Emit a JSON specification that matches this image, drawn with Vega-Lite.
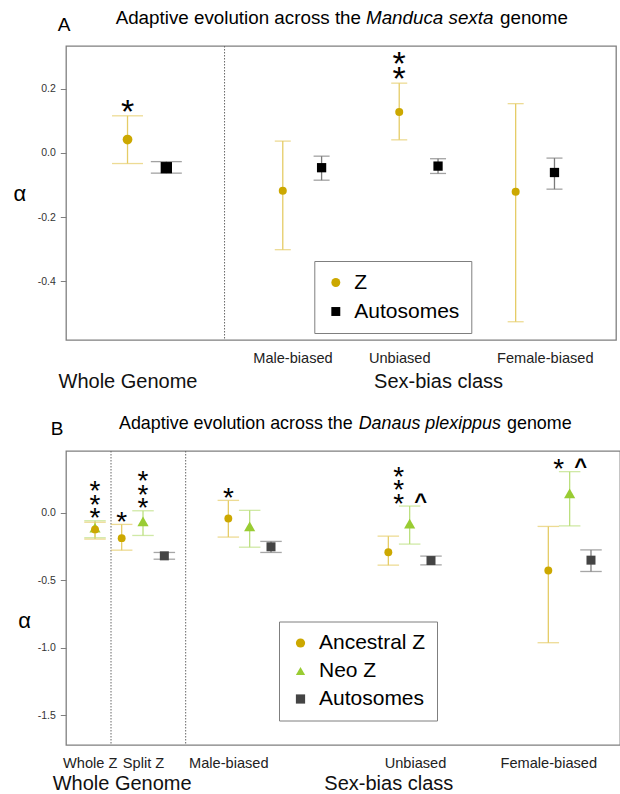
{
  "$schema": "https://vega.github.io/schema/vega-lite/v6.json",
  "padding": {"left": 12, "top": 8, "right": 0, "bottom": 0},
  "background": "white",
  "spacing": 22,
  "config": {
    "font": "Liberation Sans",
    "view": {"stroke": "#7f7f7f", "strokeWidth": 1.3},
    "axis": {"grid": false}
  },
  "resolve": {"scale": {"x": "independent", "y": "independent", "color": "independent", "shape": "independent", "size": "independent"}, "legend": {"color": "independent", "shape": "independent"}},
  "vconcat": [
    {
      "width": 550,
      "height": 294,
      "data": {"values": [
        {"class": "Whole Genome", "chrom": "Z", "est": 0.042, "lo": -0.033, "hi": 0.116, "sig": "*"},
        {"class": "Whole Genome", "chrom": "Autosomes", "est": -0.046, "lo": -0.063, "hi": -0.027},
        {"class": "Male-biased", "chrom": "Z", "est": -0.118, "lo": -0.302, "hi": 0.037},
        {"class": "Male-biased", "chrom": "Autosomes", "est": -0.046, "lo": -0.085, "hi": -0.010},
        {"class": "Unbiased", "chrom": "Z", "est": 0.128, "lo": 0.041, "hi": 0.218, "sig": "**"},
        {"class": "Unbiased", "chrom": "Autosomes", "est": -0.041, "lo": -0.064, "hi": -0.018},
        {"class": "Female-biased", "chrom": "Z", "est": -0.121, "lo": -0.527, "hi": 0.154},
        {"class": "Female-biased", "chrom": "Autosomes", "est": -0.061, "lo": -0.113, "hi": -0.016}
      ]},
      "transform": [
        {"calculate": "datum.class + '|' + datum.chrom", "as": "key"},
        {"calculate": "datum.sig ? split(datum.sig, '') : null", "as": "sigLines"}
      ],
      "resolve": {"axis": {"x": "independent"}},
      "layer": [
        {
          "data": {"values": [{}]},
          "mark": {"type": "rule", "color": "#666666", "strokeDash": [1.5, 1.5], "strokeWidth": 1},
          "encoding": {"x": {"datum": "_10", "type": "nominal", "scale": {"type": "point"}, "axis": null}}
        },
        {
          "mark": {"type": "rule", "strokeWidth": 1.3},
          "encoding": {
            "x": {"field": "key", "type": "nominal",
              "scale": {"type": "point", "padding": 0.34, "domain": ["_m6","_m5","_m4","_m3","_m2","_m1","Whole Genome|Z","_1","_2","_3","Whole Genome|Autosomes","_5","_6","_7","_8","_9","_10","_11","_12","_13","_14","_15","Male-biased|Z","lab:Male-biased","_18","_19","Male-biased|Autosomes","_21","_22","_23","_24","_25","_26","_27","Unbiased|Z","_29","_30","_31","Unbiased|Autosomes","_33","_34","_35","_36","_37","_38","_39","Female-biased|Z","_41","_42","lab:Female-biased","Female-biased|Autosomes","_45","_46","_47","_48","_49","_50"]},
              "axis": {"orient": "bottom", "title": null, "domain": false, "ticks": false, "tickSize": 0, "values": ["lab:Male-biased", "Unbiased|Z", "lab:Female-biased"], "labelExpr": "replace(split(datum.value, '|')[0], 'lab:', '')", "labelAngle": 0, "labelFontSize": 14.6, "labelColor": "#222222", "labelPadding": 18, "labelBaseline": "middle", "labelOverlap": false, "labelFlush": false}
            },
            "y": {"field": "lo", "type": "quantitative", "title": "α",
              "scale": {"domain": [-0.584, 0.334], "nice": false, "zero": false},
              "axis": {"values": [-0.4, -0.2, 0, 0.2], "format": ".1f", "labelExpr": "replace(datum.label, '\u2212', '-')", "domain": false, "tickColor": "#7f7f7f", "tickSize": 5.7, "labelPadding": 5, "labelFontSize": 10.5, "labelColor": "#333333", "titleAngle": 0, "titleFontSize": 22, "titleFontWeight": "normal", "titleX": -46.7, "titleY": 147, "titleAlign": "center", "titleBaseline": "middle", "titleColor": "#000000"}
            },
            "y2": {"field": "hi", "title": "α"},
            "color": {"condition": {"test": "datum.chrom === 'Z'", "value": "#E5CC66"}, "value": "#7a7a7a"}
          }
        },
        {
          "mark": {"type": "tick", "thickness": 1.3},
          "encoding": {
            "x": {"field": "key", "type": "nominal", "scale": {"type": "point"},
              "axis": {"orient": "bottom", "title": null, "domain": false, "ticks": false, "tickSize": 0, "values": ["Whole Genome|Z", "Unbiased|Autosomes"], "labelExpr": "datum.value === 'Whole Genome|Z' ? 'Whole Genome' : 'Sex-bias class'", "labelAngle": 0, "labelFontSize": 20, "labelColor": "#111111", "labelPadding": 41, "labelBaseline": "middle", "labelOverlap": false, "labelFlush": false}
            },
            "y": {"field": "lo", "type": "quantitative", "title": "α"},
            "color": {"condition": {"test": "datum.chrom === 'Z'", "value": "#E5CC66"}, "value": "#7a7a7a"},
            "size": {"condition": {"test": "datum.class === 'Whole Genome'", "value": 31}, "value": 16}
          }
        },
        {
          "mark": {"type": "tick", "thickness": 1.3},
          "encoding": {
            "x": {"field": "key", "type": "nominal", "scale": {"type": "point"}, "axis": null},
            "y": {"field": "hi", "type": "quantitative", "title": "α"},
            "color": {"condition": {"test": "datum.chrom === 'Z'", "value": "#E5CC66"}, "value": "#7a7a7a"},
            "size": {"condition": {"test": "datum.class === 'Whole Genome'", "value": 31}, "value": 16}
          }
        },
        {
          "mark": {"type": "point", "filled": true, "opacity": 1},
          "encoding": {
            "x": {"field": "key", "type": "nominal", "scale": {"type": "point"}, "axis": null},
            "y": {"field": "est", "type": "quantitative", "title": "α"},
            "color": {"field": "chrom", "type": "nominal", "scale": {"domain": ["Z", "Autosomes"], "range": ["#CCA800", "#000000"]},
              "legend": {"orient": "none", "legendX": 248.3, "legendY": 215, "title": null, "strokeColor": "#7f7f7f", "fillColor": "#ffffff", "padding": 11, "labelFontSize": 21, "labelFont": "Liberation Sans", "labelColor": "#000000", "symbolSize": 80, "rowPadding": 7, "labelOffset": 8, "symbolStrokeWidth": 0}},
            "shape": {"field": "chrom", "type": "nominal", "scale": {"domain": ["Z", "Autosomes"], "range": ["circle", "square"]},
              "legend": {"orient": "none", "legendX": 248.3, "legendY": 215, "title": null, "strokeColor": "#7f7f7f", "fillColor": "#ffffff", "padding": 11, "labelFontSize": 21, "labelFont": "Liberation Sans", "labelColor": "#000000", "symbolSize": 80, "rowPadding": 7, "labelOffset": 8, "symbolStrokeWidth": 0}},
            "size": {"condition": [
              {"test": "datum.class === 'Whole Genome' && datum.chrom === 'Z'", "value": 95},
              {"test": "datum.class === 'Whole Genome'", "value": 128},
              {"test": "datum.chrom === 'Z'", "value": 64}
            ], "value": 86}
          }
        },
        {
          "transform": [{"filter": "datum.sig && length(datum.sig) === 1"}],
          "mark": {"type": "text", "font": "Liberation Sans", "fontSize": 34, "baseline": "bottom", "align": "center", "dy": 14, "color": "#000000"},
          "encoding": {
            "x": {"field": "key", "type": "nominal", "scale": {"type": "point"}, "axis": null},
            "y": {"field": "hi", "type": "quantitative", "title": "α"},
            "text": {"field": "sig", "type": "nominal"}
          }
        },
        {
          "transform": [{"filter": "datum.sig && length(datum.sig) === 2"}],
          "mark": {"type": "text", "font": "Liberation Sans", "fontSize": 34, "baseline": "bottom", "align": "center", "lineHeight": 15.6, "dy": -1.6, "color": "#000000"},
          "encoding": {
            "x": {"field": "key", "type": "nominal", "scale": {"type": "point"}, "axis": null},
            "y": {"field": "hi", "type": "quantitative", "title": "α"},
            "text": {"field": "sigLines", "type": "nominal"}
          }
        },
        {
          "data": {"values": [{}]},
          "mark": {"type": "text", "text": "A", "fontSize": 19, "align": "center", "baseline": "middle", "dx": -5.3, "color": "#000000"},
          "encoding": {"x": {"datum": "_m6", "type": "nominal", "scale": {"type": "point"}, "axis": null}, "y": {"datum": 0.399, "type": "quantitative"}}
        },
        {
          "data": {"values": [{}]},
          "mark": {"type": "text", "text": "Adaptive evolution across the", "fontSize": 18.8, "align": "right", "baseline": "middle", "dx": 0.6, "color": "#000000"},
          "encoding": {"x": {"datum": "_24", "type": "nominal", "scale": {"type": "point"}, "axis": null}, "y": {"datum": 0.42, "type": "quantitative"}}
        },
        {
          "data": {"values": [{}]},
          "mark": {"type": "text", "text": "Manduca sexta", "fontSize": 18.8, "fontStyle": "italic", "align": "left", "baseline": "middle", "dx": 5.6, "color": "#000000"},
          "encoding": {"x": {"datum": "_24", "type": "nominal", "scale": {"type": "point"}, "axis": null}, "y": {"datum": 0.42, "type": "quantitative"}}
        },
        {
          "data": {"values": [{}]},
          "mark": {"type": "text", "text": "genome", "fontSize": 18.8, "align": "left", "baseline": "middle", "dx": 139.6, "color": "#000000"},
          "encoding": {"x": {"datum": "_24", "type": "nominal", "scale": {"type": "point"}, "axis": null}, "y": {"datum": 0.42, "type": "quantitative"}}
        }
      ]
    },
    {
      "width": 554,
      "height": 294,
      "data": {"values": [
        {"class": "Whole Z", "chrom": "Neo Z", "est": -0.111, "lo": -0.185, "hi": -0.059, "sig": "***"},
        {"class": "Whole Z", "chrom": "Ancestral Z", "est": -0.123, "lo": -0.195, "hi": -0.07},
        {"class": "Split Z", "chrom": "Ancestral Z", "est": -0.188, "lo": -0.277, "hi": -0.086, "sig": "*"},
        {"class": "Split Z", "chrom": "Neo Z", "est": -0.064, "lo": -0.168, "hi": 0.015, "sig": "***"},
        {"class": "Split Z", "chrom": "Autosomes", "est": -0.319, "lo": -0.344, "hi": -0.294},
        {"class": "Male-biased", "chrom": "Ancestral Z", "est": -0.042, "lo": -0.18, "hi": 0.092, "sig": "*"},
        {"class": "Male-biased", "chrom": "Neo Z", "est": -0.10, "lo": -0.255, "hi": 0.018},
        {"class": "Male-biased", "chrom": "Autosomes", "est": -0.252, "lo": -0.294, "hi": -0.212},
        {"class": "Unbiased", "chrom": "Ancestral Z", "est": -0.292, "lo": -0.388, "hi": -0.173},
        {"class": "Unbiased", "chrom": "Neo Z", "est": -0.08, "lo": -0.232, "hi": 0.05, "sig": "***", "caret": "^"},
        {"class": "Unbiased", "chrom": "Autosomes", "est": -0.354, "lo": -0.386, "hi": -0.321},
        {"class": "Female-biased", "chrom": "Ancestral Z", "est": -0.428, "lo": -0.963, "hi": -0.101},
        {"class": "Female-biased", "chrom": "Neo Z", "est": 0.144, "lo": -0.097, "hi": 0.305, "sig": "*", "caret": "^"},
        {"class": "Female-biased", "chrom": "Autosomes", "est": -0.351, "lo": -0.435, "hi": -0.275}
      ]},
      "transform": [
        {"calculate": "datum.class === 'Whole Z' ? 'Whole Z' : datum.class + '|' + datum.chrom", "as": "key"},
        {"calculate": "datum.sig ? split(datum.sig, '') : null", "as": "sigLines"}
      ],
      "resolve": {"axis": {"x": "independent"}},
      "layer": [
        {
          "data": {"values": [{"s": "_3"}, {"s": "_17"}]},
          "mark": {"type": "rule", "color": "#666666", "strokeDash": [1.5, 1.5], "strokeWidth": 1},
          "encoding": {"x": {"field": "s", "type": "nominal", "scale": {"type": "point"}, "axis": null}}
        },
        {
          "mark": {"type": "rule", "strokeWidth": 1.3},
          "encoding": {
            "x": {"field": "key", "type": "nominal",
              "scale": {"type": "point", "padding": 0.44, "domain": ["_m5","_m4","_m3","_m2","lab:Whole Z","Whole Z","_1","_2","_3","_4","Split Z|Ancestral Z","_6","_7","_8","Split Z|Neo Z","_10","_11","_12","Split Z|Autosomes","_14","_15","_16","_17","_18","_19","_20","_21","_22","_23","_24","Male-biased|Ancestral Z","_26","_27","_28","Male-biased|Neo Z","_30","_31","_32","Male-biased|Autosomes","_34","_35","_36","_37","_38","_39","_40","_41","_42","_43","_44","_45","_46","_47","_48","_49","_50","_51","_52","_53","_54","Unbiased|Ancestral Z","_56","_57","_58","Unbiased|Neo Z","lab:Unbiased","_61","_62","Unbiased|Autosomes","_64","_65","_66","_67","_68","_69","_70","_71","_72","_73","_74","_75","_76","_77","_78","_79","_80","_81","_82","_83","_84","Female-biased|Ancestral Z","_86","_87","_88","Female-biased|Neo Z","_90","_91","_92","Female-biased|Autosomes","_94","_95","_96","_97","_98"]},
              "axis": {"orient": "bottom", "title": null, "domain": false, "ticks": false, "tickSize": 0, "values": ["lab:Whole Z", "Split Z|Neo Z", "Male-biased|Ancestral Z", "lab:Unbiased", "Female-biased|Ancestral Z"], "labelExpr": "replace(split(datum.value, '|')[0], 'lab:', '')", "labelAngle": 0, "labelFontSize": 14.6, "labelColor": "#222222", "labelPadding": 18, "labelBaseline": "middle", "labelOverlap": false, "labelFlush": false}
            },
            "y": {"field": "lo", "type": "quantitative", "title": "α",
              "scale": {"domain": [-1.721, 0.458], "nice": false, "zero": false},
              "axis": {"values": [-1.5, -1, -0.5, 0], "format": ".1f", "labelExpr": "replace(datum.label, '\u2212', '-')", "domain": false, "tickColor": "#7f7f7f", "tickSize": 5.7, "labelPadding": 5, "labelFontSize": 10.5, "labelColor": "#333333", "titleAngle": 0, "titleFontSize": 22, "titleFontWeight": "normal", "titleX": -42, "titleY": 169, "titleAlign": "center", "titleBaseline": "middle", "titleColor": "#000000"}
            },
            "y2": {"field": "hi", "title": "α"},
            "color": {"condition": [
              {"test": "datum.chrom === 'Ancestral Z'", "value": "#E5CC66"},
              {"test": "datum.chrom === 'Neo Z'", "value": "#BCE080"}
            ], "value": "#808080"}
          }
        },
        {
          "mark": {"type": "tick", "thickness": 1.3, "size": 21.5},
          "encoding": {
            "x": {"field": "key", "type": "nominal", "scale": {"type": "point"},
              "axis": {"orient": "bottom", "title": null, "domain": false, "ticks": false, "tickSize": 0, "values": ["Split Z|Ancestral Z", "Unbiased|Ancestral Z"], "labelExpr": "datum.value === 'Split Z|Ancestral Z' ? 'Whole Genome' : 'Sex-bias class'", "labelAngle": 0, "labelFontSize": 20, "labelColor": "#111111", "labelPadding": 38, "labelBaseline": "middle", "labelOverlap": false, "labelFlush": false}
            },
            "y": {"field": "lo", "type": "quantitative", "title": "α"},
            "color": {"condition": [
              {"test": "datum.chrom === 'Ancestral Z'", "value": "#E5CC66"},
              {"test": "datum.chrom === 'Neo Z'", "value": "#BCE080"}
            ], "value": "#808080"}
          }
        },
        {
          "mark": {"type": "tick", "thickness": 1.3, "size": 21.5},
          "encoding": {
            "x": {"field": "key", "type": "nominal", "scale": {"type": "point"}, "axis": null},
            "y": {"field": "hi", "type": "quantitative", "title": "α"},
            "color": {"condition": [
              {"test": "datum.chrom === 'Ancestral Z'", "value": "#E5CC66"},
              {"test": "datum.chrom === 'Neo Z'", "value": "#BCE080"}
            ], "value": "#808080"}
          }
        },
        {
          "mark": {"type": "point", "filled": true, "opacity": 1},
          "encoding": {
            "x": {"field": "key", "type": "nominal", "scale": {"type": "point"}, "axis": null},
            "y": {"field": "est", "type": "quantitative", "title": "α"},
            "color": {"field": "chrom", "type": "nominal", "scale": {"domain": ["Ancestral Z", "Neo Z", "Autosomes"], "range": ["#CCA800", "#99CC33", "#444444"]},
              "legend": {"orient": "none", "legendX": 213, "legendY": 170.5, "title": null, "strokeColor": "#7f7f7f", "fillColor": "#ffffff", "padding": 11, "labelFontSize": 21, "labelFont": "Liberation Sans", "labelColor": "#000000", "symbolSize": 85, "rowPadding": 6, "labelOffset": 8, "symbolStrokeWidth": 0}},
            "shape": {"field": "chrom", "type": "nominal", "scale": {"domain": ["Ancestral Z", "Neo Z", "Autosomes"], "range": ["circle", "triangle-up", "square"]},
              "legend": {"orient": "none", "legendX": 213, "legendY": 170.5, "title": null, "strokeColor": "#7f7f7f", "fillColor": "#ffffff", "padding": 11, "labelFontSize": 21, "labelFont": "Liberation Sans", "labelColor": "#000000", "symbolSize": 85, "rowPadding": 6, "labelOffset": 8, "symbolStrokeWidth": 0}},
            "size": {"condition": [
              {"test": "datum.chrom === 'Ancestral Z'", "value": 62},
              {"test": "datum.chrom === 'Neo Z'", "value": 125}
            ], "value": 81}
          }
        },
        {
          "transform": [{"filter": "datum.sig && !datum.caret && length(datum.sig) === 1"}],
          "mark": {"type": "text", "font": "Liberation Sans", "fontSize": 28, "baseline": "bottom", "align": "center", "dy": 12.7, "color": "#000000"},
          "encoding": {
            "x": {"field": "key", "type": "nominal", "scale": {"type": "point"}, "axis": null},
            "y": {"field": "hi", "type": "quantitative", "title": "α"},
            "text": {"field": "sig", "type": "nominal"}
          }
        },
        {
          "transform": [{"filter": "datum.sig && !datum.caret && length(datum.sig) === 3"}],
          "mark": {"type": "text", "font": "Liberation Sans", "fontSize": 28, "baseline": "bottom", "align": "center", "lineHeight": 13.5, "dy": -14.3, "color": "#000000"},
          "encoding": {
            "x": {"field": "key", "type": "nominal", "scale": {"type": "point"}, "axis": null},
            "y": {"field": "hi", "type": "quantitative", "title": "α"},
            "text": {"field": "sigLines", "type": "nominal"}
          }
        },
        {
          "transform": [{"filter": "datum.sig && datum.caret && length(datum.sig) === 1"}],
          "mark": {"type": "text", "font": "Liberation Sans", "fontSize": 28, "baseline": "bottom", "align": "center", "dy": 12.7, "dx": -11, "color": "#000000"},
          "encoding": {
            "x": {"field": "key", "type": "nominal", "scale": {"type": "point"}, "axis": null},
            "y": {"field": "hi", "type": "quantitative", "title": "α"},
            "text": {"field": "sig", "type": "nominal"}
          }
        },
        {
          "transform": [{"filter": "datum.sig && datum.caret && length(datum.sig) === 3"}],
          "mark": {"type": "text", "font": "Liberation Sans", "fontSize": 28, "baseline": "bottom", "align": "center", "lineHeight": 13.5, "dy": -14.3, "dx": -11, "color": "#000000"},
          "encoding": {
            "x": {"field": "key", "type": "nominal", "scale": {"type": "point"}, "axis": null},
            "y": {"field": "hi", "type": "quantitative", "title": "α"},
            "text": {"field": "sigLines", "type": "nominal"}
          }
        },
        {
          "transform": [{"filter": "datum.caret"}],
          "mark": {"type": "text", "font": "Liberation Sans", "fontSize": 22, "fontWeight": "bold", "baseline": "bottom", "align": "center", "dy": 7.6, "dx": 11, "color": "#000000"},
          "encoding": {
            "x": {"field": "key", "type": "nominal", "scale": {"type": "point"}, "axis": null},
            "y": {"field": "hi", "type": "quantitative", "title": "α"},
            "text": {"field": "caret", "type": "nominal"}
          }
        },
        {
          "data": {"values": [{}]},
          "mark": {"type": "text", "text": "B", "fontSize": 19, "align": "center", "baseline": "middle", "dx": -11.2, "color": "#000000"},
          "encoding": {"x": {"datum": "_m5", "type": "nominal", "scale": {"type": "point"}, "axis": null}, "y": {"datum": 0.619, "type": "quantitative"}}
        },
        {
          "data": {"values": [{}]},
          "mark": {"type": "text", "text": "Adaptive evolution across the", "fontSize": 17.9, "align": "right", "baseline": "middle", "dx": -14.3, "color": "#000000"},
          "encoding": {"x": {"datum": "_51", "type": "nominal", "scale": {"type": "point"}, "axis": null}, "y": {"datum": 0.6585, "type": "quantitative"}}
        },
        {
          "data": {"values": [{}]},
          "mark": {"type": "text", "text": "Danaus plexippus", "fontSize": 17.9, "fontStyle": "italic", "align": "left", "baseline": "middle", "dx": -8.3, "color": "#000000"},
          "encoding": {"x": {"datum": "_51", "type": "nominal", "scale": {"type": "point"}, "axis": null}, "y": {"datum": 0.6585, "type": "quantitative"}}
        },
        {
          "data": {"values": [{}]},
          "mark": {"type": "text", "text": "genome", "fontSize": 17.9, "align": "left", "baseline": "middle", "dx": 140, "color": "#000000"},
          "encoding": {"x": {"datum": "_51", "type": "nominal", "scale": {"type": "point"}, "axis": null}, "y": {"datum": 0.6585, "type": "quantitative"}}
        }
      ]
    }
  ]
}
